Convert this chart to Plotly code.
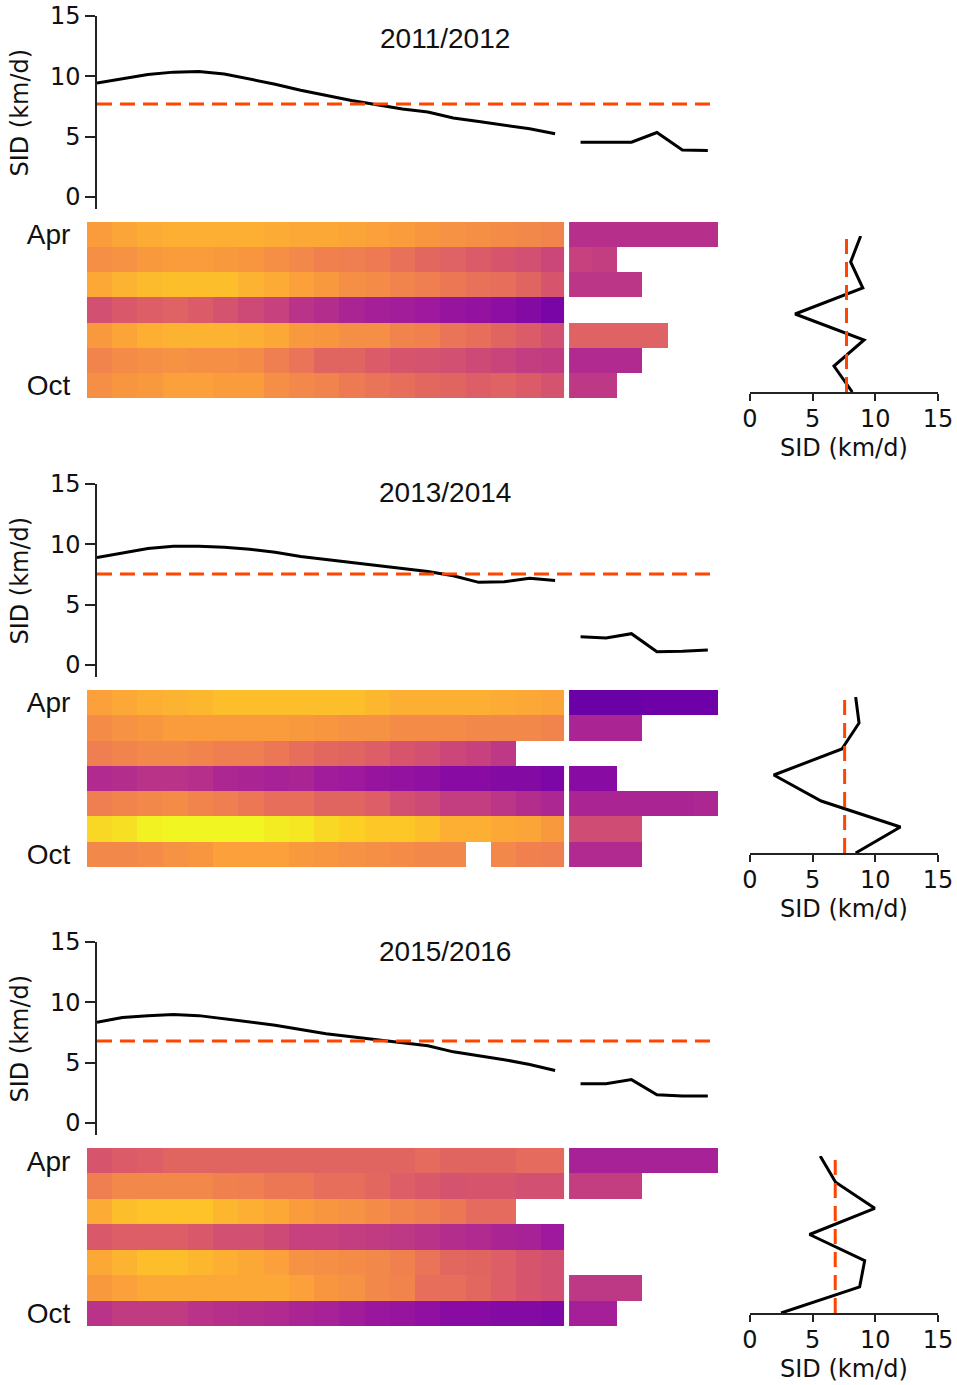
import plotly.graph_objects as go

W, H = 957, 1385

seasons = ["2011/2012", "2013/2014", "2015/2016"]
months = ["Apr", "May", "Jun", "Jul", "Aug", "Sep", "Oct"]
n_cols = 25
n_left = 19  # columns before the white separator
N = None

# Column-mean SID (km/d) shown in the top line panels
sid_cols_1 = [9.45, 9.8, 10.15, 10.35, 10.4, 10.2, 9.8, 9.35, 8.85, 8.4, 8.0, 7.65, 7.3, 7.05,
              6.55, 6.25, 5.95, 5.65, 5.25, 4.55, 4.55, 4.55, 5.35, 3.9, 3.85]
sid_cols_2 = [8.9, 9.25, 9.65, 9.85, 9.85, 9.75, 9.6, 9.35, 9.0, 8.75, 8.5, 8.25, 8.0, 7.75,
              7.4, 6.85, 6.9, 7.2, 7.0, 2.35, 2.25, 2.6, 1.1, 1.15, 1.25]
sid_cols_3 = [8.35, 8.75, 8.9, 9.0, 8.9, 8.65, 8.4, 8.1, 7.75, 7.4, 7.15, 6.9, 6.65, 6.4,
              5.9, 5.6, 5.25, 4.85, 4.35, 3.25, 3.25, 3.6, 2.35, 2.25, 2.25]

# Row (month) mean SID (km/d) shown in the right panels
sid_rows_1 = [8.83, 8.03, 9.0, 3.6, 9.1, 6.7, 8.16]
sid_rows_2 = [8.43, 8.7, 7.33, 1.9, 5.68, 12.0, 8.43]
sid_rows_3 = [5.6, 6.83, 9.95, 4.75, 9.15, 8.75, 2.48]

# Overall mean SID (dashed lines)
sid_mean = [7.7, 7.55, 6.8]

# Normalised SID per month (rows) and period (columns)
heat_1 = [
    [0.77, 0.79, 0.81, 0.82, 0.82, 0.82, 0.82, 0.81, 0.80, 0.80, 0.79, 0.78, 0.77, 0.75, 0.74, 0.73, 0.72, 0.71, 0.70, 0.42, 0.42, 0.42, 0.42, 0.42, 0.42],
    [0.73, 0.74, 0.76, 0.77, 0.77, 0.76, 0.75, 0.73, 0.71, 0.69, 0.68, 0.67, 0.64, 0.61, 0.59, 0.57, 0.55, 0.53, 0.50, 0.48, 0.47, N, N, N, N],
    [0.80, 0.83, 0.85, 0.86, 0.86, 0.86, 0.83, 0.81, 0.78, 0.76, 0.73, 0.72, 0.70, 0.68, 0.66, 0.64, 0.63, 0.60, 0.55, 0.44, 0.44, 0.44, N, N, N],
    [0.53, 0.56, 0.58, 0.59, 0.57, 0.54, 0.51, 0.48, 0.43, 0.41, 0.38, 0.36, 0.355, 0.34, 0.32, 0.31, 0.29, 0.27, 0.24, N, N, N, N, N, N],
    [0.76, 0.79, 0.82, 0.83, 0.83, 0.83, 0.82, 0.80, 0.76, 0.75, 0.73, 0.73, 0.70, 0.69, 0.65, 0.63, 0.60, 0.57, 0.53, 0.59, 0.59, 0.59, 0.59, N, N],
    [0.70, 0.72, 0.73, 0.74, 0.73, 0.73, 0.72, 0.68, 0.65, 0.60, 0.60, 0.57, 0.55, 0.54, 0.53, 0.51, 0.49, 0.47, 0.46, 0.40, 0.40, 0.40, N, N, N],
    [0.73, 0.75, 0.76, 0.78, 0.78, 0.77, 0.77, 0.73, 0.71, 0.70, 0.67, 0.65, 0.63, 0.61, 0.60, 0.58, 0.59, 0.57, 0.54, 0.45, 0.45, N, N, N, N],
]
heat_2 = [
    [0.78, 0.80, 0.82, 0.83, 0.84, 0.86, 0.86, 0.86, 0.86, 0.86, 0.86, 0.84, 0.82, 0.82, 0.82, 0.82, 0.81, 0.80, 0.79, 0.20, 0.20, 0.20, 0.21, 0.21, 0.21],
    [0.72, 0.74, 0.75, 0.77, 0.77, 0.77, 0.77, 0.77, 0.76, 0.75, 0.74, 0.74, 0.72, 0.72, 0.72, 0.71, 0.71, 0.71, 0.70, 0.38, 0.38, 0.38, N, N, N],
    [0.68, 0.70, 0.71, 0.71, 0.70, 0.68, 0.68, 0.66, 0.63, 0.61, 0.60, 0.58, 0.55, 0.53, 0.50, 0.48, 0.45, N, N, N, N, N, N, N, N],
    [0.40, 0.41, 0.43, 0.43, 0.42, 0.39, 0.38, 0.37, 0.38, 0.35, 0.34, 0.32, 0.31, 0.30, 0.28, 0.28, 0.27, 0.27, 0.25, 0.28, 0.28, N, N, N, N],
    [0.68, 0.70, 0.71, 0.72, 0.70, 0.68, 0.66, 0.63, 0.63, 0.60, 0.60, 0.58, 0.53, 0.51, 0.47, 0.47, 0.44, 0.41, 0.39, 0.38, 0.38, 0.38, 0.38, 0.38, 0.39],
    [0.92, 0.94, 0.98, 0.99, 0.99, 0.99, 0.99, 0.97, 0.96, 0.92, 0.90, 0.88, 0.88, 0.86, 0.82, 0.82, 0.80, 0.79, 0.76, 0.52, 0.52, 0.52, N, N, N],
    [0.71, 0.71, 0.72, 0.74, 0.75, 0.78, 0.78, 0.78, 0.76, 0.75, 0.74, 0.73, 0.72, 0.71, 0.71, N, 0.71, 0.69, 0.68, 0.40, 0.40, 0.40, N, N, N],
]
heat_3 = [
    [0.55, 0.57, 0.58, 0.60, 0.60, 0.60, 0.60, 0.60, 0.60, 0.60, 0.60, 0.60, 0.60, 0.62, 0.60, 0.60, 0.60, 0.62, 0.62, 0.37, 0.37, 0.37, 0.37, 0.37, 0.37],
    [0.68, 0.71, 0.71, 0.71, 0.71, 0.69, 0.68, 0.66, 0.66, 0.63, 0.63, 0.61, 0.58, 0.56, 0.54, 0.55, 0.55, 0.53, 0.53, 0.47, 0.47, 0.47, N, N, N],
    [0.81, 0.86, 0.87, 0.87, 0.87, 0.84, 0.82, 0.80, 0.77, 0.75, 0.74, 0.72, 0.70, 0.68, 0.66, 0.62, 0.62, N, N, N, N, N, N, N, N],
    [0.56, 0.58, 0.58, 0.58, 0.56, 0.53, 0.53, 0.51, 0.48, 0.48, 0.47, 0.46, 0.45, 0.43, 0.41, 0.40, 0.38, 0.37, 0.34, N, N, N, N, N, N],
    [0.80, 0.83, 0.86, 0.86, 0.84, 0.82, 0.80, 0.78, 0.74, 0.73, 0.72, 0.71, 0.69, 0.65, 0.61, 0.60, 0.58, 0.55, 0.53, N, N, N, N, N, N],
    [0.76, 0.78, 0.80, 0.80, 0.80, 0.80, 0.80, 0.80, 0.78, 0.75, 0.74, 0.71, 0.70, 0.63, 0.63, 0.61, 0.58, 0.55, 0.53, 0.45, 0.45, 0.45, N, N, N],
    [0.43, 0.46, 0.46, 0.46, 0.43, 0.42, 0.41, 0.40, 0.38, 0.37, 0.35, 0.33, 0.32, 0.30, 0.28, 0.28, 0.27, 0.27, 0.26, 0.36, 0.36, N, N, N, N],
]

sid_cols = [sid_cols_1, sid_cols_2, sid_cols_3]
sid_rows = [sid_rows_1, sid_rows_2, sid_rows_3]
heats = [heat_1, heat_2, heat_3]

# ---------------- layout geometry (pixels) ----------------
line_top = [16, 484, 942]          # pixel of y=15 on top panels
heat_top = [222, 690, 1148]
heat_bot = [398, 867, 1326]
right_top = [236, 697, 1156]
right_bot = [392, 853, 1313]
title_y = [39, 493, 951]
px_per_unit = 12.07


def fx(a, b):
    return [a / W, b / W]


def fy(top, bottom):
    return [1 - bottom / H, 1 - top / H]


TICKFONT = dict(family="DejaVu Sans", size=24, color="#111")
ARIAL = "Liberation Sans"
ORANGE = "#ff4500"

fig = go.Figure()
layout = dict(
    width=W, height=H,
    margin=dict(l=0, r=0, t=0, b=0),
    paper_bgcolor="white", plot_bgcolor="white",
    showlegend=False,
)
annotations = []
shapes = []

cols = list(range(n_cols))
rows = list(range(len(months)))


def xa(k):
    return "x" if k == 1 else f"x{k}"


def ya(k):
    return "y" if k == 1 else f"y{k}"


def xl(k):
    return "xaxis" if k == 1 else f"xaxis{k}"


def yl(k):
    return "yaxis" if k == 1 else f"yaxis{k}"


for p in range(3):
    k_line, k_heat, k_right = 3 * p + 1, 3 * p + 2, 3 * p + 3

    # ---- top line panel ----
    vals = sid_cols[p]
    for seg in (slice(0, n_left), slice(n_left, n_cols)):
        fig.add_trace(go.Scatter(x=cols[seg], y=vals[seg], mode="lines",
                                 line=dict(color="black", width=3),
                                 xaxis=xa(k_line), yaxis=ya(k_line), hoverinfo="skip"))
    top = line_top[p]
    bottom = top + 16 * px_per_unit
    layout[xl(k_line)] = dict(domain=fx(97, 718), range=[0, 24.4], visible=False,
                              anchor=ya(k_line))
    layout[yl(k_line)] = dict(domain=fy(top, bottom), range=[-1, 15],
                              tickvals=[0, 5, 10, 15], ticks="outside", ticklen=10,
                              tickwidth=1.5, tickcolor="#222", showline=True,
                              linecolor="#222", linewidth=1.5, showgrid=False,
                              zeroline=False, tickfont=TICKFONT, anchor=xa(k_line),
                              automargin=False)
    shapes.append(dict(type="line", xref=f"{xa(k_line)} domain", yref=ya(k_line),
                       x0=0, x1=1, y0=sid_mean[p], y1=sid_mean[p],
                       line=dict(color=ORANGE, width=3, dash="15px,8px")))
    annotations.append(dict(text="SID (km/d)", textangle=-90, x=20 / W,
                            y=1 - (top + bottom) / 2 / H, xref="paper", yref="paper",
                            xanchor="center", yanchor="middle",
                            showarrow=False, font=dict(family="DejaVu Sans", size=24, color="#111")))
    annotations.append(dict(text=seasons[p], x=445 / W, y=1 - title_y[p] / H,
                            xref="paper", yref="paper", showarrow=False,
                            xanchor="center", yanchor="middle",
                            font=dict(family=ARIAL, size=28, color="#111")))

    # ---- heatmap ----
    fig.add_trace(go.Heatmap(z=heats[p], x=cols, y=rows, colorscale="Plasma",
                             zmin=0, zmax=1, showscale=False, hoverinfo="skip",
                             xaxis=xa(k_heat), yaxis=ya(k_heat)))
    layout[xl(k_heat)] = dict(domain=fx(87, 718), range=[-0.5, n_cols - 0.5],
                              visible=False, anchor=ya(k_heat))
    layout[yl(k_heat)] = dict(domain=fy(heat_top[p], heat_bot[p]),
                              range=[len(months) - 0.5, -0.5],
                              tickvals=[0, len(months) - 1],
                              ticktext=[months[0], months[-1]],
                              ticks="outside", ticklen=10, tickcolor="rgba(0,0,0,0)",
                              showline=False, showgrid=False, zeroline=False,
                              tickfont=dict(family=ARIAL, size=28, color="#111"),
                              anchor=xa(k_heat), automargin=False)
    shapes.append(dict(type="line", xref=xa(k_heat), yref=ya(k_heat),
                       x0=n_left - 0.5, x1=n_left - 0.5, y0=-0.5, y1=len(months) - 0.5,
                       line=dict(color="white", width=5)))

    # ---- right profile ----
    fig.add_trace(go.Scatter(x=sid_rows[p], y=rows, mode="lines",
                             line=dict(color="black", width=3),
                             xaxis=xa(k_right), yaxis=ya(k_right), hoverinfo="skip"))
    layout[xl(k_right)] = dict(domain=fx(750, 938), range=[0, 15],
                               tickvals=[0, 5, 10, 15], ticks="outside", ticklen=7,
                               tickwidth=1.5, tickcolor="#222", showline=True,
                               linecolor="#222", linewidth=1.5, showgrid=False,
                               zeroline=False, tickfont=TICKFONT, anchor=ya(k_right),
                               ticklabelstandoff=-3, automargin=False)
    layout[yl(k_right)] = dict(domain=fy(right_top[p], right_bot[p]),
                               range=[len(months) - 1, 0], visible=False,
                               anchor=xa(k_right))
    shapes.append(dict(type="line", xref=xa(k_right), yref=f"{ya(k_right)} domain",
                       x0=sid_mean[p], x1=sid_mean[p], y0=0, y1=1,
                       line=dict(color=ORANGE, width=3, dash="15px,8px")))
    annotations.append(dict(text="SID (km/d)", x=844 / W, y=1 - (right_bot[p] + 56) / H,
                            xref="paper", yref="paper", showarrow=False,
                            xanchor="center", yanchor="middle",
                            font=dict(family="DejaVu Sans", size=24, color="#111")))

layout["annotations"] = annotations
layout["shapes"] = shapes
fig.update_layout(**layout)
fig.write_html(
    "out.html",
    post_script="document.body.style.margin='0';document.body.style.overflow='hidden';",
)
